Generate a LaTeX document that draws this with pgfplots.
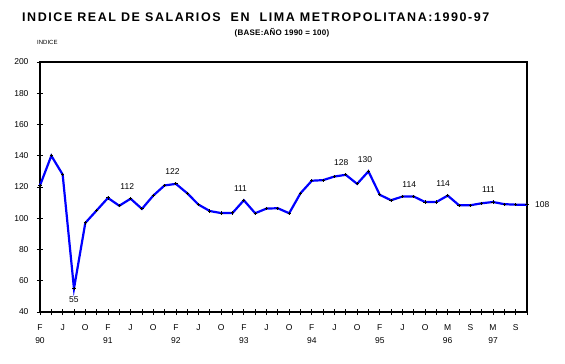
\documentclass[border=0pt]{standalone}
\usepackage{fontspec}
\setmainfont{Liberation Sans}
\newfontfamily\titlefont[LetterSpace=12.5]{Liberation Sans}
\newfontfamily\subfont[LetterSpace=3]{Liberation Sans}
\usepackage{pgfplots}
\pgfplotsset{compat=1.18}
\pgfplotstableread{
x y
0 121
1 140
2 128
3 55
4 97
5 105
6 113
7 108
8 112.5
9 106
10 114.5
11 121
12 122
13 116
14 108.7
15 104.6
16 103.3
17 103.4
18 111.5
19 103.2
20 106.2
21 106.4
22 103.2
23 116
24 124
25 124.4
26 126.7
27 127.8
28 122
29 130
30 115
31 111.5
32 113.9
33 113.9
34 110.4
35 110.4
36 114.5
37 108.3
38 108.3
39 109.6
40 110.4
41 109
42 108.7
43 108.7
}\salarios
\begin{document}
\begin{tikzpicture}[x=1pt,y=1pt]
\useasboundingbox (0,0) rectangle (565,364);
\node[anchor=west, font=\titlefont\bfseries\fontsize{12.5}{14}\selectfont, inner sep=0pt] at (22,347) {INDICE REAL DE SALARIOS\ \ EN\ \ LIMA METROPOLITANA:1990-97};
\node[font=\subfont\bfseries\fontsize{8}{10}\selectfont, inner sep=0pt] at (282,331) {(BASE:AÑO 1990 = 100)};
\node[anchor=west, font=\fontsize{6}{7}\selectfont, inner sep=0pt] at (37,322) {INDICE};
\begin{axis}[
  at={(40pt,52pt)}, anchor=south west,
  scale only axis, width=487pt, height=250pt,
  xmin=0, xmax=43, ymin=40, ymax=200,
  ytick={40,60,...,200},
  xtick={0,2,...,42},
  minor xtick={1,3,...,43},
  xticklabels={F\\90, J, O, F\\91, J, O, F\\92, J, O, F\\93, J, O, F\\94, J, O, F\\95, J, O, M\\96, S, M\\97, S},
  xticklabel style={align=center, font=\fontsize{8.5}{13}\selectfont, yshift=-6pt},
  yticklabel style={font=\fontsize{8.5}{9}\selectfont, xshift=-5pt},
  /pgf/number format/assume math mode=true,
  axis line style={line width=2.4pt},
  tick style={black, line width=0.8pt},
  major tick length=6pt, minor tick length=6pt,
  tick align=center,
  xtick pos=bottom, ytick pos=left,
  clip=false,
]
\addplot[color={rgb,255:red,0;green,0;blue,255}, line width=2.2pt, mark=+, mark size=1.6pt, mark options={black, line width=0.9pt}] table[x=x,y=y] {\salarios};
\begin{scope}[every node/.style={font=\fontsize{8.5}{9}\selectfont, inner sep=0pt}]
\node[anchor=south] at (axis cs:3,55) [yshift=-14pt] {55};
\node[anchor=south] at (axis cs:7.7,112.5) [yshift=9pt] {112};
\node[anchor=south] at (axis cs:11.7,122) [yshift=9pt] {122};
\node[anchor=south] at (axis cs:17.7,111.5) [yshift=9pt] {111};
\node[anchor=south] at (axis cs:26.6,127.8) [yshift=9pt] {128};
\node[anchor=south] at (axis cs:28.7,130) [yshift=9pt] {130};
\node[anchor=south] at (axis cs:32.6,113.9) [yshift=9pt] {114};
\node[anchor=south] at (axis cs:35.6,114.5) [yshift=9pt] {114};
\node[anchor=south] at (axis cs:39.6,110.4) [yshift=9pt] {111};
\node[anchor=west] at (axis cs:43,108.7) [xshift=8pt] {108};
\end{scope}
\end{axis}
\end{tikzpicture}
\end{document}
